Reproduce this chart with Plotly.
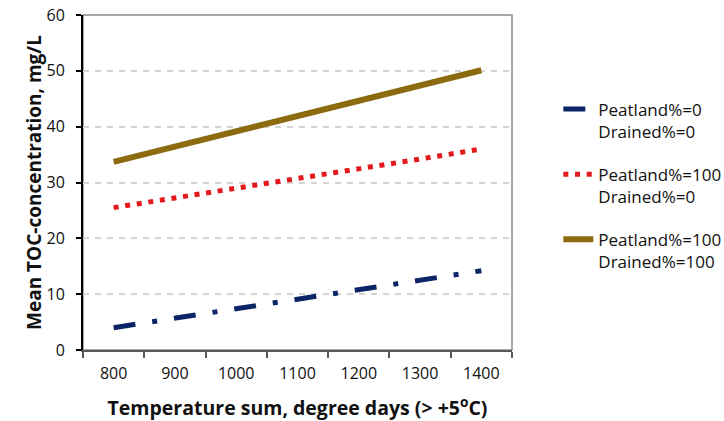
import plotly.graph_objects as go

categories = ["800", "900", "1000", "1100", "1200", "1300", "1400"]
peat0_drained0 = [4.0, 5.7, 7.4, 9.1, 10.8, 12.5, 14.2]
peat100_drained0 = [25.5, 27.2, 29.0, 30.7, 32.5, 34.2, 36.0]
peat100_drained100 = [33.7, 36.4, 39.2, 41.9, 44.6, 47.4, 50.1]
series_names = ["Peatland%=0<br>Drained%=0",
                "Peatland%=100<br>Drained%=0",
                "Peatland%=100<br>Drained%=100"]
y_ticks = [0, 10, 20, 30, 40, 50, 60]

FONT = "Open Sans"

fig = go.Figure()
fig.add_trace(go.Scatter(x=categories, y=peat0_drained0, mode="lines",
                         name=series_names[0], legendgroup="a",
                         line=dict(color="#0b2566", width=5, dash="22px,17px,5px,17px")))
fig.add_trace(go.Scatter(x=categories, y=peat100_drained0, mode="lines",
                         name=series_names[1], legendgroup="b",
                         line=dict(color="#e3191e", width=5, dash="5px,6.7px")))
fig.add_trace(go.Scatter(x=categories, y=peat100_drained100, mode="lines",
                         name=series_names[2], legendgroup="c",
                         line=dict(color="#8b6a10", width=6)))

fig.add_shape(type="rect", xref="paper", yref="paper", x0=0, x1=1, y0=0, y1=1,
              line=dict(color="#8c8c8c", width=1.5), layer="below")

fig.update_layout(
    width=724, height=421,
    margin=dict(l=83, r=212, t=15, b=71, autoexpand=False),
    paper_bgcolor="white", plot_bgcolor="white",
    font=dict(family=FONT, color="#111111", size=16),
    legend=dict(x=1.108, y=0.772, xanchor="left", yanchor="top",
                valign="top", tracegroupgap=18,
                font=dict(family=FONT, size=17, color="#111111"),
                bgcolor="rgba(0,0,0,0)"),
    xaxis=dict(type="category", categoryorder="array", categoryarray=categories,
               range=[-0.5, 6.5], automargin=False,
               showgrid=False, showline=True, linecolor="#595959", linewidth=1.5,
               ticks="outside", tickson="boundaries", ticklen=6, tickcolor="#595959",
               tickwidth=1.5, ticklabelstandoff=8,
               tickfont=dict(family=FONT, size=16, color="#111111"),
               title=dict(text="<b>Temperature sum, degree days (> +5<sup>o</sup>C)</b>",
                          font=dict(family=FONT, size=19.5, color="#111111"), standoff=22)),
    yaxis=dict(range=[0, 60], tickvals=y_ticks, showgrid=True, gridcolor="#d4d4d4",
               griddash="6px,6px", gridwidth=1.5, zeroline=False, automargin=False,
               showline=True, linecolor="black", linewidth=2,
               ticks="outside", ticklen=5, tickcolor="black", tickwidth=1.5,
               ticklabelstandoff=8,
               tickfont=dict(family=FONT, size=16, color="#111111"),
               title=dict(text="<b>Mean TOC-concentration, mg/L</b>",
                          font=dict(family=FONT, size=19, color="#111111"), standoff=0)),
)

fig.write_html("out.html")
